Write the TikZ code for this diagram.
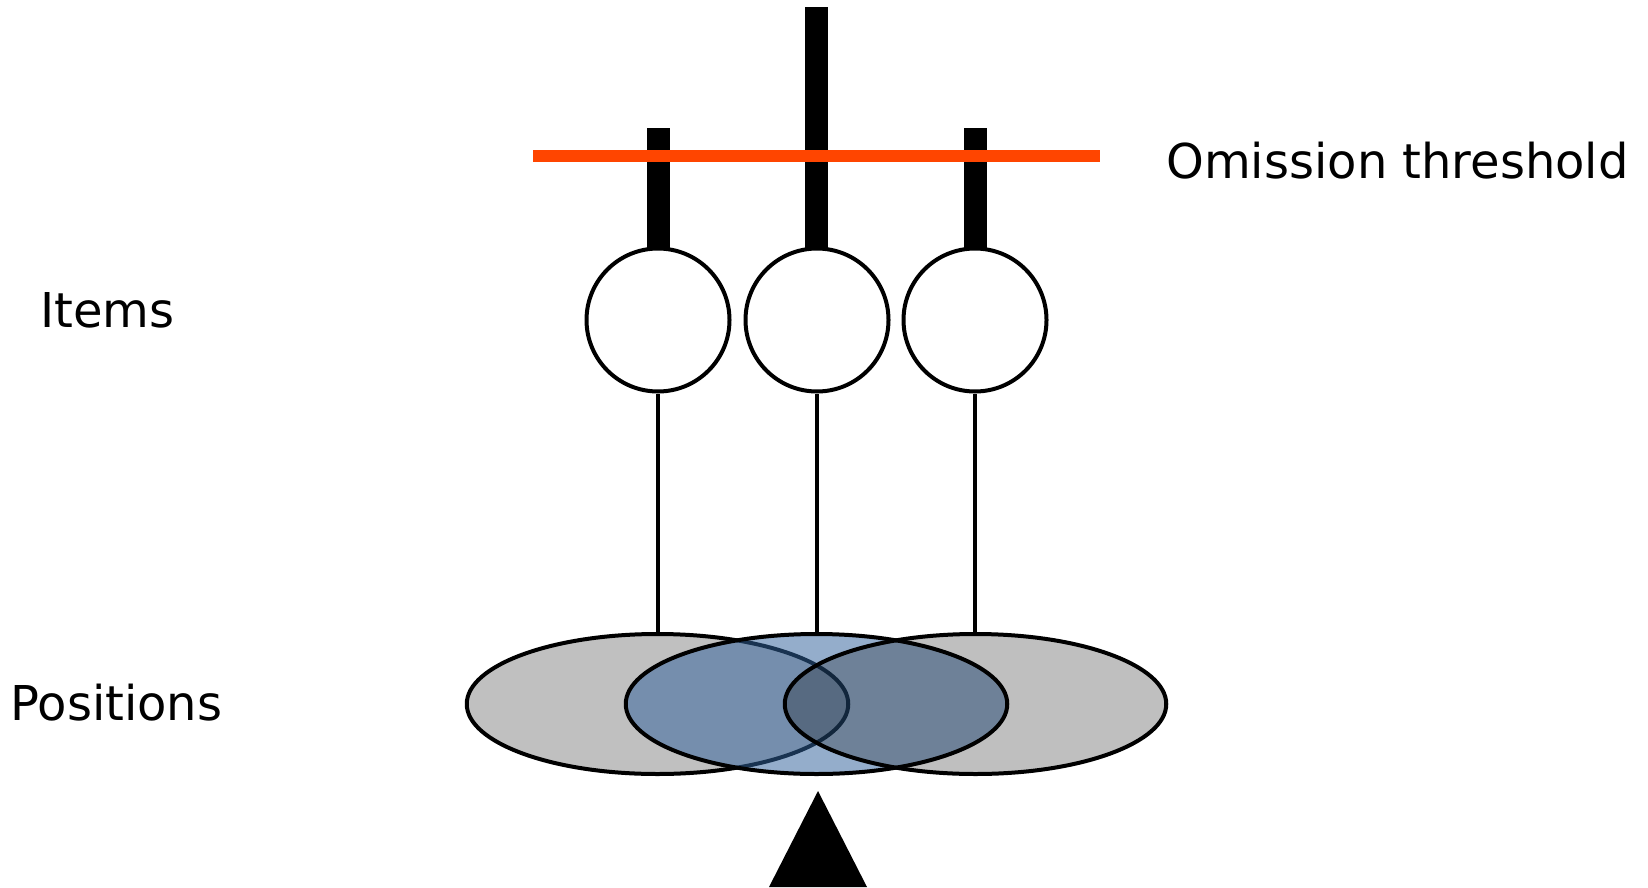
\documentclass[tikz,border=0pt]{standalone}
\usepackage{fontspec}
\setmainfont{DejaVu Sans}
\usetikzlibrary{shapes.geometric}
\definecolor{thr}{RGB}{255,69,0}
\definecolor{posgray}{RGB}{192,192,192}
\definecolor{posblue}{RGB}{49,98,156}
\begin{document}
\begin{tikzpicture}[x=0.5pt,y=-0.5pt,
  item/.style={circle,draw=black,line width=2pt,fill=white,minimum size=71.5pt,inner sep=0pt},
  posell/.style={ellipse,draw=black,line width=2pt,minimum width=190.75pt,minimum height=70pt,inner sep=0pt},
  barbox/.style={fill=black},
  link/.style={draw=black,line width=1.6pt},
  lbl/.style={font=\fontsize{24pt}{29pt}\selectfont,inner sep=0pt,anchor=base west}]
\useasboundingbox (0,0) rectangle (1648,888);
% bars
\fill[barbox] (646.5,128) rectangle (669.5,250);
\fill[barbox] (805,7) rectangle (828,250);
\fill[barbox] (963.5,128) rectangle (986.5,250);
% threshold
\draw[thr,line width=6pt] (533,156) coordinate (t1) -- (1100,156) coordinate (t2);
% items
\node[item] (i1) at (658,320) {};
\node[item] (i2) at (817,320) {};
\node[item] (i3) at (975,320) {};
% positions
\node[posell,fill=posgray] (p1) at (657.5,704) {};
\node[posell,fill=posblue,fill opacity=0.52] (p2) at (816.5,704) {};
\node[posell,fill=black,fill opacity=0.25] (p3) at (975.5,704) {};
% links
\draw[link] (i1.south) -- (i1.south |- p1.north);
\draw[link] (i2.south) -- (i2.south |- p2.north);
\draw[link] (i3.south) -- (i3.south |- p3.north);
% cue
\fill[black] (818,791) -- (769,887) -- (867,887) -- cycle;
% labels
\node[lbl] (lt) at (1166,178) {Omission threshold};
\node[lbl] (li) at (40,327) {Items};
\node[lbl] (lp) at (10,720) {Positions};
\end{tikzpicture}
\end{document}
